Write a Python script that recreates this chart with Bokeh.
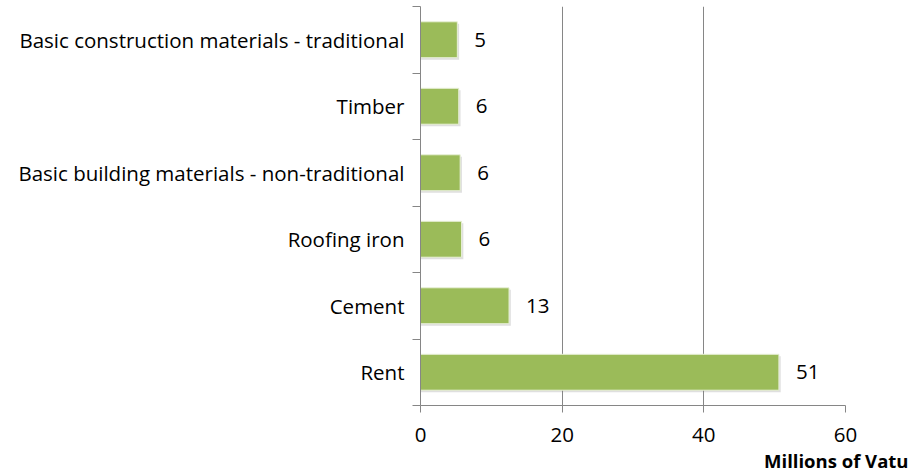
from bokeh.plotting import figure
from bokeh.models import ColumnDataSource, FixedTicker, Range1d, Title, LabelSet
from bokeh.core.properties import value
from bokeh.transform import dodge
from bokeh.embed import file_html
from bokeh.resources import INLINE

categories = ["Rent", "Cement", "Roofing iron",
              "Basic building materials - non-traditional", "Timber",
              "Basic construction materials - traditional"]
values = [50.6, 12.5, 5.8, 5.6, 5.4, 5.2]
value_labels = ["51", "13", "6", "6", "6", "5"]
x_ticks = [0, 20, 40, 60]
x_axis_title = "Millions of Vatu"

FONT = "Open Sans"
AXIS_COLOR = "#868686"

pos = [i + 0.5 for i in range(len(categories))]
bounds = [i for i in range(len(categories) + 1)]

src = ColumnDataSource(dict(y=pos, value=values, label=value_labels, cat=categories))

p = figure(width=912, height=473, output_backend="svg", toolbar_location=None,
           x_range=Range1d(0, 60), y_range=Range1d(0, len(categories)),
           min_border_left=420, min_border_right=67, min_border_top=6,
           min_border_bottom=67)
p.outline_line_color = None
p.background_fill_color = "white"

# shadow
p.hbar(y=dodge("y", -0.03, range=p.y_range), left=0,
       right=dodge("value", 0.25, range=p.x_range), height=0.54, source=src,
       fill_color="#7f7f7f", fill_alpha=0.25, line_color=None)
p.hbar(y="y", left=0, right="value", height=0.54, source=src,
       fill_color="#9BBB59", line_color="#e8f0d8", line_width=1)

labels = LabelSet(x="value", y="y", text="label", source=src, x_offset=17,
                  text_baseline="middle", text_font=value(FONT),
                  text_font_size="20.5px", text_color="#000000")
p.add_layout(labels)

# x axis
p.xaxis.ticker = FixedTicker(ticks=x_ticks, minor_ticks=[])
p.xaxis.axis_line_color = AXIS_COLOR
p.xaxis.major_tick_line_color = AXIS_COLOR
p.xaxis.major_tick_out = 7
p.xaxis.major_tick_in = 0
p.xaxis.minor_tick_line_color = None
p.xaxis.major_label_text_font = FONT
p.xaxis.major_label_text_font_size = "20.5px"
p.xaxis.major_label_text_color = "#000000"
p.xaxis.major_label_standoff = 15

# y axis
p.yaxis.ticker = FixedTicker(ticks=pos, minor_ticks=bounds)
p.yaxis.major_label_overrides = {pv: c for pv, c in zip(pos, categories)}
p.yaxis.axis_line_color = AXIS_COLOR
p.yaxis.major_tick_line_color = None
p.yaxis.major_tick_out = 0
p.yaxis.major_tick_in = 0
p.yaxis.minor_tick_line_color = AXIS_COLOR
p.yaxis.minor_tick_out = 8
p.yaxis.minor_tick_in = 0
p.yaxis.major_label_text_font = FONT
p.yaxis.major_label_text_font_size = "20.5px"
p.yaxis.major_label_text_color = "#000000"
p.yaxis.major_label_standoff = 8

# grid
p.xgrid.ticker = FixedTicker(ticks=x_ticks[1:])
p.xgrid.grid_line_color = AXIS_COLOR
p.ygrid.grid_line_color = None

t = Title(text=x_axis_title, align="right", offset=-63, text_font=FONT,
          text_font_size="18.5px", text_font_style="bold", text_color="#000000",
          standoff=2)
p.add_layout(t, "below")

open("out.html", "w").write(file_html(p, INLINE))
